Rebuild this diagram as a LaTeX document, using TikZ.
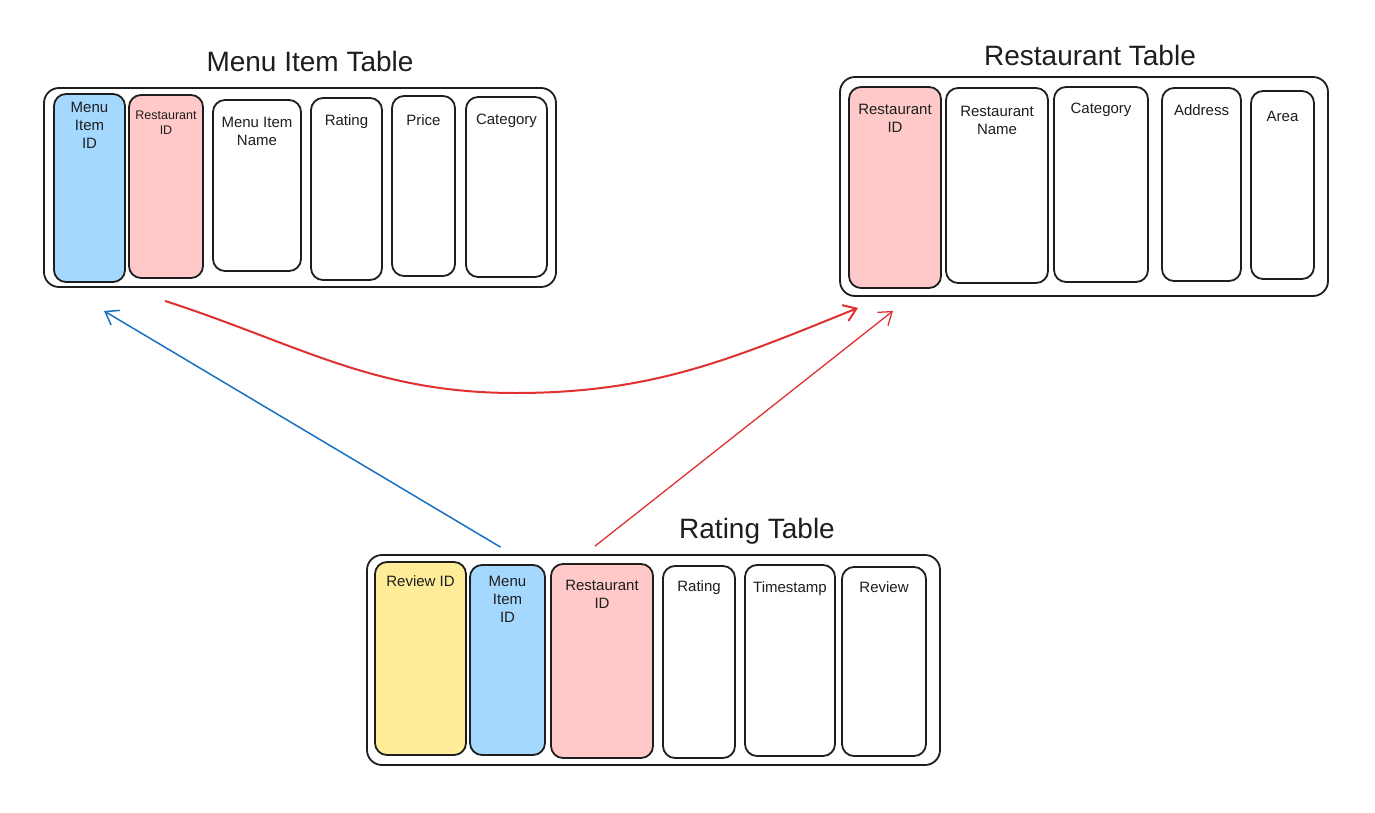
\documentclass[tikz,border=0pt]{standalone}
\usepackage{fontspec}
\setmainfont{Liberation Sans}
\usetikzlibrary{arrows.meta}
\definecolor{ink}{HTML}{1E1E1E}
\definecolor{keyblue}{HTML}{A5D8FF}
\definecolor{keypink}{HTML}{FFC9C9}
\definecolor{keyyellow}{HTML}{FFEC99}
\definecolor{linkblue}{HTML}{1971C2}
\definecolor{linkred}{HTML}{E03131}
\tikzset{
  tablebox/.style={draw=ink, line width=1.8pt, rounded corners=15pt, inner sep=0pt},
  col/.style={draw=ink, line width=1.8pt, rounded corners=12pt, inner sep=0pt},
  colname/.style={anchor=north, align=center, inner sep=0pt, font=\fontsize{15}{18}\selectfont, text=ink},
  tabletitle/.style={font=\fontsize{28}{32}\selectfont, text=ink},
  link/.style={line width=1.5pt, -{Straight Barb[length=12pt,width=17pt]}},
}
\begin{document}
\begin{tikzpicture}[x=1pt, y=-1pt]
          \useasboundingbox[fill=white] (0,0) rectangle (1375,813);
          % Menu Item Table
          \node[tabletitle] (mt-title) at (310,61) {Menu Item Table};
          \node[tablebox, minimum width=512pt, minimum height=199pt] (mt) at (300,187.5) {};
          \node[col, fill=keyblue, minimum width=71pt, minimum height=188pt,
            label={[colname, yshift=-9pt]north:Menu\\Item\\ID}] (mt-id) at (89.5,188) {};
          \node[col, fill=keypink, minimum width=74pt, minimum height=183pt,
            label={[colname, yshift=-17pt, font=\fontsize{12.5}{15}\selectfont]north:Restaurant\\ID}] (mt-rid) at (166,186.5) {};
          \node[col, minimum width=88pt, minimum height=171pt,
            label={[colname, yshift=-18pt]north:Menu Item\\Name}] (mt-name) at (257,185.5) {};
          \node[col, minimum width=71pt, minimum height=182pt,
            label={[colname, yshift=-17pt]north:Rating}] (mt-rate) at (346.5,189) {};
          \node[col, minimum width=63pt, minimum height=180pt,
            label={[colname, yshift=-19pt]north:Price}] (mt-price) at (423.5,186) {};
          \node[col, minimum width=81pt, minimum height=180pt,
            label={[colname, yshift=-18pt]north:Category}] (mt-cat) at (506.5,187) {};
          % Restaurant Table
          \node[tabletitle] (rs-title) at (1090,55) {Restaurant Table};
          \node[tablebox, minimum width=488pt, minimum height=219pt] (rs) at (1084,186.5) {};
          \node[col, fill=keypink, minimum width=92pt, minimum height=201pt,
            label={[colname, yshift=-18pt]north:Restaurant\\ID}] (rs-rid) at (895,187.5) {};
          \node[col, minimum width=102pt, minimum height=195pt,
            label={[colname, yshift=-19pt]north:Restaurant\\Name}] (rs-name) at (997,185.5) {};
          \node[col, minimum width=94pt, minimum height=195pt,
            label={[colname, yshift=-17pt]north:Category}] (rs-cat) at (1101,184.5) {};
          \node[col, minimum width=79pt, minimum height=193pt,
            label={[colname, yshift=-17pt]north:Address}] (rs-addr) at (1201.5,184.5) {};
          \node[col, minimum width=63pt, minimum height=188pt,
            label={[colname, yshift=-21pt]north:Area}] (rs-area) at (1282.5,185) {};
          % Rating Table
          \node[tabletitle] (rt-title) at (757,531) {Rating Table};
          \node[tablebox, minimum width=573pt, minimum height=210pt] (rt) at (653.5,660) {};
          \node[col, fill=keyyellow, minimum width=91pt, minimum height=193pt,
            label={[colname, yshift=-14pt]north:Review ID}] (rt-rev) at (420.5,658.5) {};
          \node[col, fill=keyblue, minimum width=75pt, minimum height=190pt,
            label={[colname, yshift=-12pt]north:Menu\\Item\\ID}] (rt-mid) at (507.5,660) {};
          \node[col, fill=keypink, minimum width=102pt, minimum height=194pt,
            label={[colname, yshift=-17pt]north:Restaurant\\ID}] (rt-rid) at (602,661) {};
          \node[col, minimum width=72pt, minimum height=192pt,
            label={[colname, yshift=-15pt]north:Rating}] (rt-rate) at (699,662) {};
          \node[col, minimum width=90pt, minimum height=191pt,
            label={[colname, yshift=-17pt]north:Timestamp}] (rt-ts) at (790,660.5) {};
          \node[col, minimum width=84pt, minimum height=189pt,
            label={[colname, yshift=-15pt]north:Review}] (rt-revw) at (884,661.5) {};
          % keys
          \coordinate (dip) at (515,393);
          \draw[link, draw=linkblue] ([shift={(-7,-17)}]rt-mid.north) -- ([shift={(14.5,28)}]mt-id.south);
          \draw[link, draw=linkred, line width=1.3pt] ([shift={(-7,-17)}]rt-rid.north) -- ([shift={(-2,22)}]rs-rid.south);
          \draw[link, draw=linkred, line width=2pt] ([shift={(-1,22)}]mt-rid.south) to[out=-18, in=180] (dip)
            to[out=0, in=-158] ([shift={(-37,19)}]rs-rid.south);
        \end{tikzpicture}
\end{document}
